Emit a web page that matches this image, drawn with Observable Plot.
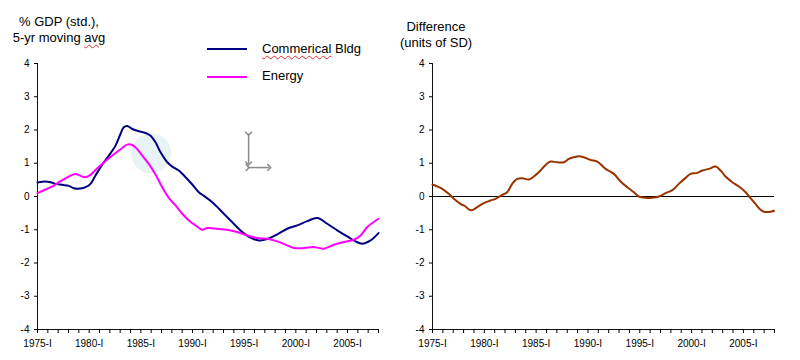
<!DOCTYPE html>
<html>
<head>
<meta charset="utf-8">
<script src="https://cdn.jsdelivr.net/npm/d3@7"></script>
<script src="https://cdn.jsdelivr.net/npm/@observablehq/plot@0.6"></script>
<style>
  html, body { margin: 0; padding: 0; background: #fff; }
  #wrap { position: relative; width: 800px; height: 360px; font-family: "Liberation Sans", Arial, sans-serif; color: #000; }
  #wrap > svg, #wrap > .p { position: absolute; top: 0; }
  .t { position: absolute; font-size: 13px; line-height: 16px; text-align: center; white-space: nowrap; }
  .sq { text-decoration: underline wavy #e03030; text-decoration-thickness: 1px; text-underline-offset: 2px; }
  .lg { position: absolute; font-size: 13px; line-height: 16px; white-space: nowrap; }
  .ll { position: absolute; height: 2px; width: 40px; }
</style>
</head>
<body>
<div id="wrap"></div>
<script>
// ---- data ----
const seriesNames = ["Commerical Bldg", "Energy"];
const seriesColors = ["#000080", "#ff00ff"];
const diffColor = "#993300";

const bldgYears = [1975.0, 1975.77, 1976.26, 1976.74, 1977.39, 1978.03, 1978.51, 1979.16, 1979.65, 1980.13,
  1980.61, 1981.26, 1981.9, 1982.55, 1983.03, 1983.35, 1983.68, 1984.17, 1984.81, 1985.45,
  1985.94, 1986.42, 1986.91, 1987.56, 1988.04, 1988.68, 1989.33, 1989.98, 1990.61, 1991.1,
  1991.91, 1992.72, 1993.68, 1994.65, 1995.62, 1996.42, 1997.24, 1998.2, 1999.17, 2000.14,
  2001.11, 2002.08, 2003.04, 2004.01, 2004.98, 2005.78, 2006.43, 2007.24, 2008.0];
const bldgValues = [0.42, 0.45, 0.43, 0.38, 0.35, 0.32, 0.25, 0.24, 0.28, 0.38,
  0.63, 0.96, 1.23, 1.53, 1.88, 2.08, 2.12, 2.03, 1.96, 1.91,
  1.83, 1.63, 1.33, 1.03, 0.9, 0.78, 0.58, 0.36, 0.13, 0.02,
  -0.17, -0.42, -0.72, -1.02, -1.24, -1.32, -1.28, -1.14, -0.97, -0.87,
  -0.74, -0.65, -0.82, -1.02, -1.2, -1.35, -1.42, -1.32, -1.1];

const energyYears = [1975.0, 1975.77, 1976.58, 1977.23, 1978.03, 1978.68, 1979.16, 1979.65, 1980.13, 1980.61,
  1981.26, 1981.9, 1982.55, 1983.2, 1983.68, 1984.17, 1984.65, 1985.14, 1985.77, 1986.42,
  1987.07, 1987.71, 1988.36, 1989.01, 1989.65, 1990.3, 1990.94, 1991.43, 1992.4, 1993.36,
  1994.33, 1995.3, 1996.27, 1997.24, 1998.2, 1999.17, 1999.81, 2000.78, 2001.75, 2002.72,
  2003.68, 2004.65, 2005.62, 2006.27, 2006.92, 2008.0];
const energyValues = [0.1, 0.21, 0.33, 0.46, 0.6, 0.68, 0.62, 0.58, 0.65, 0.8,
  0.98, 1.15, 1.31, 1.46, 1.56, 1.55, 1.43, 1.23, 0.98, 0.66,
  0.28, -0.04, -0.27, -0.52, -0.72, -0.87, -1.0, -0.95, -0.97, -1.0,
  -1.07, -1.17, -1.25, -1.27, -1.35, -1.47, -1.55, -1.55, -1.52, -1.57,
  -1.45, -1.37, -1.3, -1.17, -0.92, -0.67];

const diffYears = [1975.0, 1975.94, 1976.57, 1977.06, 1977.7, 1978.19, 1978.5, 1978.83, 1979.31, 1979.95,
  1980.6, 1981.08, 1981.73, 1982.21, 1982.69, 1983.18, 1983.66, 1984.3, 1984.78, 1985.42,
  1985.91, 1986.39, 1987.04, 1987.67, 1988.16, 1988.64, 1989.12, 1989.6, 1990.25, 1990.9,
  1991.7, 1992.5, 1993.15, 1993.79, 1994.43, 1994.91, 1995.56, 1996.21, 1996.84, 1997.49,
  1998.14, 1998.77, 1999.42, 1999.9, 2000.55, 2001.03, 2001.67, 2002.32, 2002.8, 2003.28,
  2003.93, 2004.57, 2005.21, 2005.69, 2006.18, 2006.66, 2006.98, 2007.63, 2007.95];
const diffValues = [0.36, 0.23, 0.08, -0.07, -0.22, -0.3, -0.39, -0.41, -0.32, -0.2,
  -0.12, -0.07, 0.05, 0.13, 0.38, 0.53, 0.55, 0.51, 0.6, 0.78,
  0.95, 1.05, 1.03, 1.03, 1.13, 1.18, 1.21, 1.18, 1.1, 1.05,
  0.83, 0.68, 0.45, 0.28, 0.13, 0.0, -0.04, -0.04, 0.0, 0.1,
  0.19, 0.38, 0.56, 0.68, 0.71, 0.78, 0.83, 0.9, 0.78, 0.6,
  0.43, 0.3, 0.13, -0.05, -0.23, -0.4, -0.46, -0.46, -0.43];

const xDomain = [1975, 2008];
const yDomain = [-4, 4];
const yearTicks = d3.range(1975, 2009);
const labelYears = [1975, 1980, 1985, 1990, 1995, 2000, 2005];
const yTicks = [-4, -3, -2, -1, 0, 1, 2, 3, 4];

// decorative annotations (in data units of the left panel)
const blobX = [1986.0], blobY = [1.3];
const arrowX1 = [1995.43, 1995.33], arrowY1 = [1.89, 0.87];
const arrowX2 = [1995.43, 1997.43], arrowY2 = [0.99, 0.87];

const toRows = (xs, ys, extra = {}) => xs.map((x, i) => ({x, y: ys[i], ...extra}));
const bldg = toRows(bldgYears, bldgValues);
const energy = toRows(energyYears, energyValues);
const diff = toRows(diffYears, diffValues);
const arrows = arrowX1.map((x1, i) => ({x1, y1: arrowY1[i], x2: arrowX2[i], y2: arrowY2[i]}));
const blob = blobX.map((x, i) => ({x, y: blobY[i]}));

function axes() {
  return [
    Plot.ruleX([xDomain[0]], {stroke: "#111", strokeWidth: 1}),
    Plot.ruleY([yDomain[0]], {stroke: "#111", strokeWidth: 1}),
    Plot.axisY({ticks: yTicks, tickSize: 3, tickPadding: 5, tickFormat: d => String(d), label: null}),
    Plot.axisX({ticks: yearTicks, tickSize: 4, tickFormat: () => "", label: null}),
    Plot.axisX({ticks: labelYears, tickSize: 0, tickPadding: 10, tickFormat: d => d + "-I", label: null})
  ];
}

const common = {
  width: 400, height: 360,
  marginTop: 63, marginBottom: 31,
  x: {domain: xDomain},
  y: {domain: yDomain},
  style: {fontFamily: "Liberation Sans, Arial, sans-serif", fontSize: "10px", color: "#000", background: "transparent", overflow: "visible"}
};

const left = Plot.plot({
  ...common,
  marginLeft: 37, marginRight: 22,
  marks: [
    Plot.dot(blob, {x: "x", y: "y", r: 20, fill: "#e8f3f6", stroke: null}),
    ...axes(),
    Plot.line(bldg, {x: "x", y: "y", stroke: seriesColors[0], strokeWidth: 2, curve: "catmull-rom"}),
    Plot.line(energy, {x: "x", y: "y", stroke: seriesColors[1], strokeWidth: 2, curve: "catmull-rom"}),
    Plot.link(arrows, {x1: "x1", y1: "y1", x2: "x2", y2: "y2", stroke: "#8a8a8a", strokeWidth: 1.5, markerStart: "arrow", markerEnd: "arrow"})
  ]
});

const right = Plot.plot({
  ...common,
  marginLeft: 32, marginRight: 26,
  marks: [
    ...axes(),
    Plot.ruleY([0], {stroke: "#000", strokeWidth: 1}),
    Plot.line(diff, {x: "x", y: "y", stroke: diffColor, strokeWidth: 2, curve: "catmull-rom"})
  ]
});

const wrap = document.getElementById("wrap");
left.style.left = "0px"; left.style.position = "absolute"; left.style.top = "0px";
right.style.left = "400px"; right.style.position = "absolute"; right.style.top = "0px";
wrap.appendChild(left);
wrap.appendChild(right);

function addDiv(cls, css, html) {
  const d = document.createElement("div");
  d.className = cls;
  Object.assign(d.style, css);
  if (html != null) d.innerHTML = html;
  wrap.appendChild(d);
  return d;
}
addDiv("t", {left: "9px", top: "14px", width: "100px"}, '% GDP (std.),<br>5-yr moving <span class="sq">avg</span>');
addDiv("t", {left: "386px", top: "19px", width: "100px"}, 'Difference<br>(units of SD)');
// legend
addDiv("ll", {left: "207px", top: "48px", background: seriesColors[0]});
addDiv("lg", {left: "262px", top: "41px"}, '<span class="sq">Commerical</span> Bldg');
addDiv("ll", {left: "207px", top: "76px", background: seriesColors[1]});
addDiv("lg", {left: "262px", top: "68px"}, seriesNames[1]);
</script>
</body>
</html>
